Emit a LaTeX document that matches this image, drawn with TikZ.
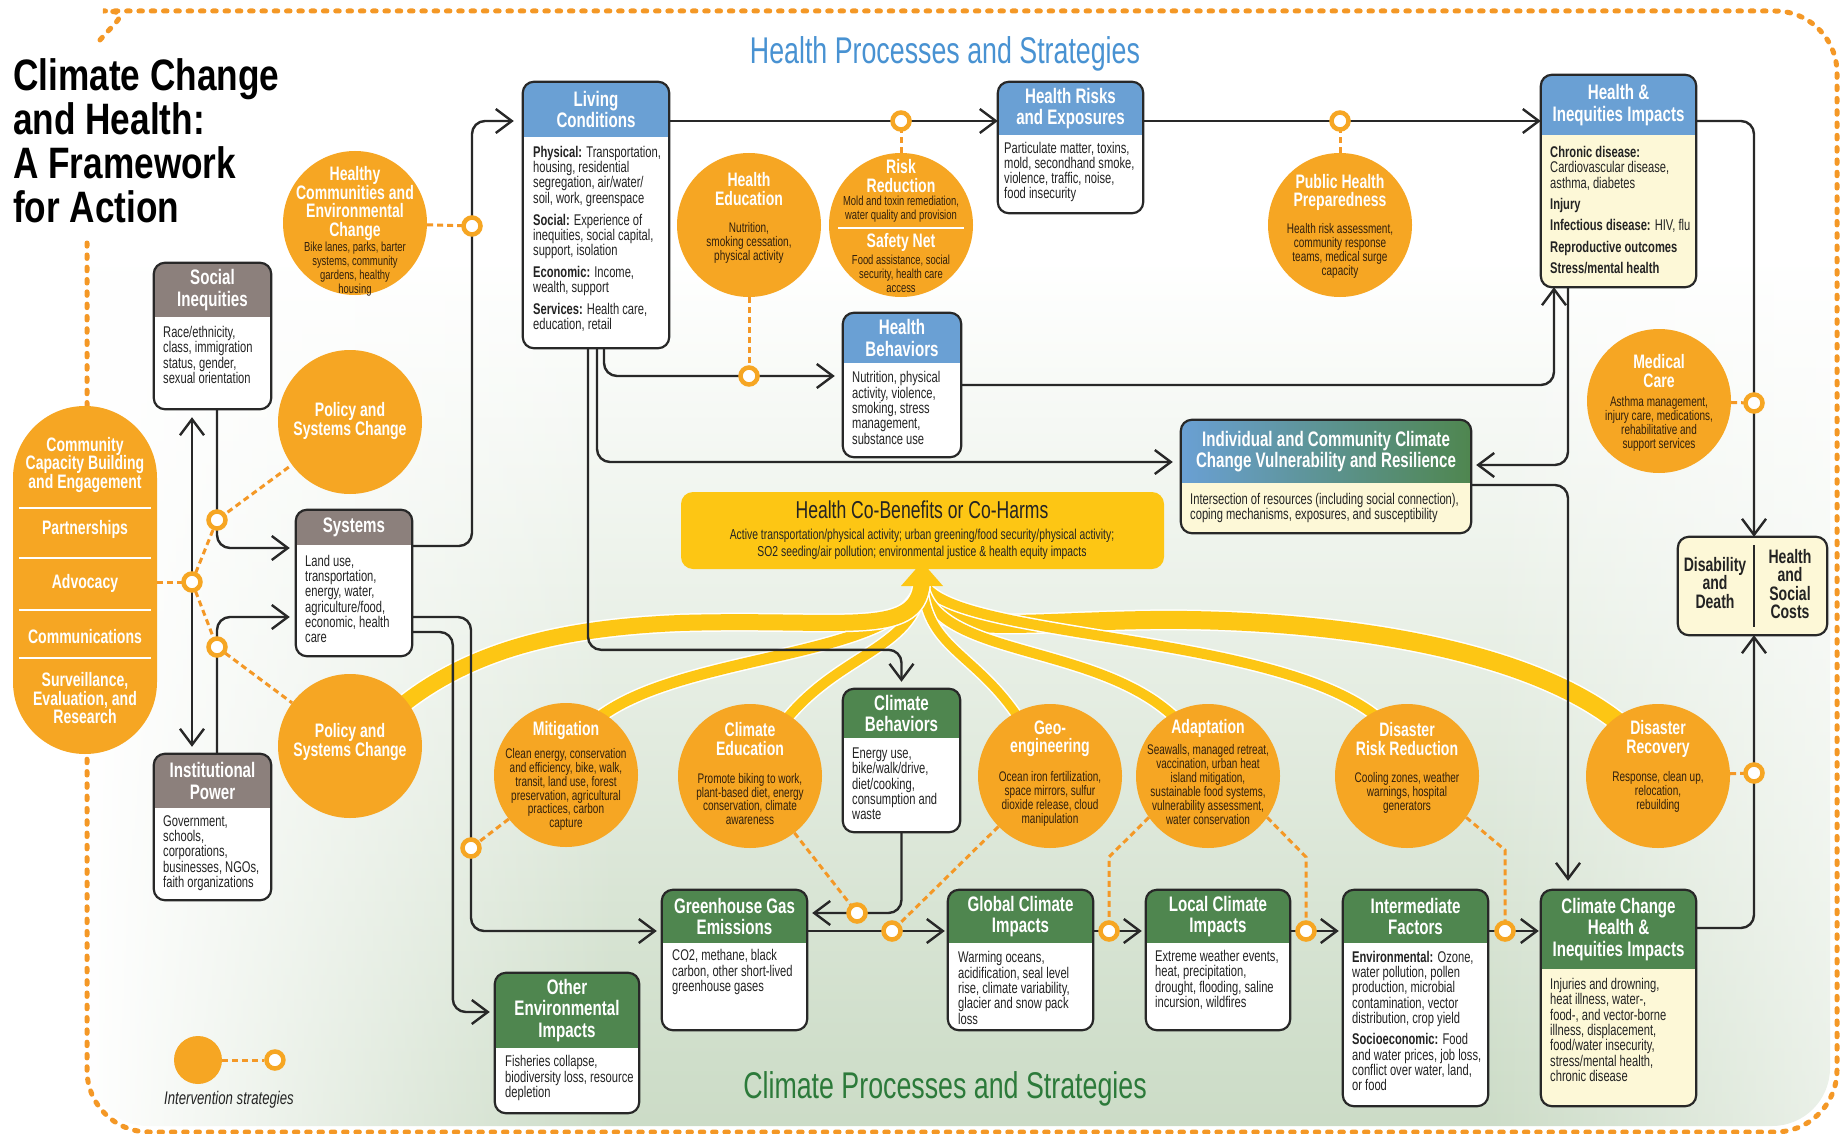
\documentclass[tikz,border=0pt]{standalone}
\usepackage{fontspec}
\setmainfont{Liberation Sans}[FakeStretch=0.72]
\newfontfamily\titlefam{Liberation Sans}[FakeStretch=0.8]
\usetikzlibrary{arrows.meta,positioning,calc,fadings}

\definecolor{orgfill}{RGB}{246,166,35}
\definecolor{orgline}{RGB}{244,152,38}
\definecolor{headblue}{RGB}{106,160,212}
\definecolor{headgreen}{RGB}{79,134,79}
\definecolor{headgray}{RGB}{140,128,124}
\definecolor{bodyyel}{RGB}{253,248,215}
\definecolor{cobyel}{RGB}{253,198,20}
\definecolor{linedark}{RGB}{40,40,40}
\definecolor{textdark}{RGB}{35,35,35}
\definecolor{cbtext}{RGB}{50,32,12}
\definecolor{headingblue}{RGB}{72,146,210}
\definecolor{headinggreen}{RGB}{44,122,58}
\definecolor{bgdeep}{RGB}{178,201,173}
\definecolor{bgmid}{RGB}{207,222,202}

\newcommand{\bodysz}{\fontsize{15.5}{15.3}\selectfont}
\newcommand{\headsz}{\fontsize{21}{21.5}\selectfont\bfseries}
\newcommand{\ctitlesz}{\fontsize{19.5}{18.5}\selectfont\bfseries}
\newcommand{\cbodysz}{\fontsize{13.9}{13.9}\selectfont}
\newcommand{\csmallsz}{\fontsize{13.1}{13.9}\selectfont}
\newcommand{\titlesz}{\titlefam\fontsize{44}{44}\selectfont\bfseries}
\newcommand{\secsz}{\fontsize{37.2}{40}\selectfont}
\newcommand{\cbtitlesz}{\fontsize{24.4}{26}\selectfont}
\newcommand{\cbbodysz}{\fontsize{14.4}{17}\selectfont}

\pgfdeclareverticalshading{bgfade}{100bp}{color(0bp)=(bgdeep); color(28bp)=(bgmid); color(64bp)=(white); color(100bp)=(white)}

\pgfdeclarelayer{back}
\pgfdeclarelayer{bands}
\pgfsetlayers{back,bands,main}

\tikzset{>/.tip={Straight Barb[length=16pt,width=24pt,line width=2.4pt]}}
\tikzset{
  conn/.style={draw=linedark, line width=2.4pt, rounded corners=13pt},
  odash/.style={draw=orgline, line width=3pt, dash pattern=on 6pt off 4pt},
  borderline/.style={draw=orgline, line width=5pt, dash pattern=on 3.5pt off 8.8pt, line cap=round, rounded corners=62pt},
  marker/.style={circle, draw=orgfill, line width=4.5pt, fill=white, minimum size=17pt, inner sep=0pt},
  ocirc/.style={circle, fill=orgfill, minimum size=144pt, inner sep=0pt},
  pbox/.style={rectangle, rounded corners=11pt, fill=white, inner sep=0pt},
  boxline/.style={draw=linedark, line width=2.2pt},
  band/.style={draw=cobyel, line width=#1, preaction={draw=white, line width=#1+3pt}},
  htext/.style={inner sep=0pt, align=center, font=\headsz, text=white},
  btext/.style={inner sep=0pt, align=left, anchor=west, font=\bodysz, text=textdark},
  ctitle/.style={inner sep=0pt, align=center, font=\ctitlesz, text=white},
  cbody/.style={inner sep=0pt, align=center, font=\cbodysz, text=cbtext},
  dtext/.style={inner sep=0pt, align=center, font=\ctitlesz, text=textdark},
}

% coloured head strip of a process box, then its frame
\newcommand{\headband}[3]{%
  \begin{scope}
    \clip[rounded corners=11pt] (#1.north west) rectangle (#1.south east);
    \fill[#3] (#1.north west) rectangle ([yshift=-#2]#1.north east);
  \end{scope}
  \draw[boxline, rounded corners=11pt] (#1.north west) rectangle (#1.south east);
}

\begin{document}
\begin{tikzpicture}[x=1pt, y=-1pt, node distance=10pt]
\useasboundingbox (0,0) rectangle (1847,1134);

% backdrop and frame
\begin{pgfonlayer}{back}
  \shade[shading=bgfade, rounded corners=58pt] (90,14) rectangle (1830,1126);
  \fill[white, path fading=east] (88,12) rectangle (620,1128);
  \fill[white, opacity=0.6, path fading=west] (1480,12) rectangle (1832,1128);
  \draw[borderline] (100,40) .. controls (117,20) and (133,11) .. (165,11) -- (1837,11) -- (1837,1132) -- (87,1132) -- (87,243);
\end{pgfonlayer}

\node[anchor=west, align=left, inner sep=0pt, font=\titlesz, text=black] (maintitle) at (13,141) {Climate Change\\and Health:\\A Framework\\for Action};
\node[font=\secsz, text=headingblue, inner sep=0pt] (sec-health) at (945,54) {Health Processes and Strategies};
\node[font=\secsz, text=headinggreen, inner sep=0pt] (sec-climate) at (945,1089) {Climate Processes and Strategies};

% marker points on the connectors
\coordinate (mHealthy) at (472,226);
\coordinate (mRisk) at (901,121);
\coordinate (mPub) at (1340,121);
\coordinate (mEdu) at (749,376);
\coordinate (mMed) at (1754,403);
\coordinate (mRec) at (1754,773);
\coordinate (mSocSys) at (217,520);
\coordinate (mAdv) at (192,582);
\coordinate (mInstSys) at (217,647);
\coordinate (mMitig) at (471,848);
\coordinate (mClimEdu) at (857,913);
\coordinate (mGeo) at (892,931);
\coordinate (mAdaptL) at (1109,931);
\coordinate (mAdaptR) at (1306,931);
\coordinate (mDrr) at (1505,931);

% process boxes
\node[pbox, minimum width=117pt, minimum height=146pt] (socineq) at (212.5,336) {};
\headband{socineq}{54pt}{headgray}
\node[pbox, minimum width=116pt, minimum height=146pt] (systems) at (354,583) {};
\headband{systems}{35pt}{headgray}
\node[pbox, minimum width=117pt, minimum height=146pt] (instpow) at (212.5,827) {};
\headband{instpow}{54pt}{headgray}
\node[pbox, minimum width=146pt, minimum height=266pt] (livcond) at (596,215) {};
\headband{livcond}{55pt}{headblue}
\node[pbox, minimum width=145pt, minimum height=131pt] (hlthrisk) at (1070.5,147.5) {};
\headband{hlthrisk}{53pt}{headblue}
\node[pbox, minimum width=118pt, minimum height=144pt] (hlthbeh) at (902,385) {};
\headband{hlthbeh}{50pt}{headblue}
\node[pbox, fill=bodyyel, minimum width=155pt, minimum height=212pt] (hlthimp) at (1618.5,181) {};
\headband{hlthimp}{60pt}{headblue}
\node[pbox, fill=bodyyel, minimum width=290pt, minimum height=113pt] (vulner) at (1326,476.5) {};
\headband{vulner}{63pt}{left color=headblue,right color=headgreen}
\node[pbox, fill=bodyyel, minimum width=149pt, minimum height=98pt] (disab) at (1752.5,586) {};
\draw[boxline, rounded corners=11pt] (disab.north west) rectangle (disab.south east);
\draw[boxline] ($(disab.north)+(1.5,8)$) -- ($(disab.south)+(1.5,-8)$);
\node[pbox, minimum width=117pt, minimum height=143pt] (climbeh) at (901.5,760.5) {};
\headband{climbeh}{49pt}{headgreen}
\node[pbox, minimum width=145pt, minimum height=140pt] (ghg) at (734.5,960) {};
\headband{ghg}{53pt}{headgreen}
\node[pbox, minimum width=144pt, minimum height=140pt] (otherenv) at (567,1043) {};
\headband{otherenv}{75pt}{headgreen}
\node[pbox, minimum width=145pt, minimum height=140pt] (globclim) at (1020.5,960) {};
\headband{globclim}{53pt}{headgreen}
\node[pbox, minimum width=144pt, minimum height=140pt] (locclim) at (1218,960) {};
\headband{locclim}{53pt}{headgreen}
\node[pbox, minimum width=145pt, minimum height=216pt] (interm) at (1415.5,998) {};
\headband{interm}{53pt}{headgreen}
\node[pbox, fill=bodyyel, minimum width=155pt, minimum height=216pt] (cchealth) at (1618.5,998) {};
\headband{cchealth}{79pt}{headgreen}
\node[fill=cobyel, rounded corners=12pt, minimum width=483pt, minimum height=77pt, inner sep=0pt] (cobenefit) at (922.5,530.5) {};

% intervention strategies
\node[fill=orgfill, rounded corners=71.9pt, minimum width=144pt, minimum height=348pt, inner sep=0pt] (pill) at (85,580) {};
\foreach \y in {508,558,610,658}
  \draw[white, line width=2pt] (19,\y) -- (151,\y);
\node[ocirc] (healthycom) at (355,223) {};
\node[ocirc] (policyup) at (350,422) {};
\node[ocirc] (policylow) at (350,746) {};
\node[ocirc] (hlthedu) at (749,225) {};
\node[ocirc] (riskred) at (901,225) {};
\node[ocirc] (pubhlth) at (1340,225) {};
\node[ocirc] (medcare) at (1659,401) {};
\node[ocirc] (mitig) at (566,775) {};
\node[ocirc] (climedu) at (750,776) {};
\node[ocirc] (geoeng) at (1050,776) {};
\node[ocirc] (adapt) at (1208,776) {};
\node[ocirc] (drr) at (1407,776) {};
\node[ocirc] (disrec) at (1658,776) {};

% co-benefit streams
\begin{pgfonlayer}{bands}
  \draw[band=18pt] ($(disrec)!0.85!(disrec.125)$) .. controls (1520,640) and (1300,618) .. (1150,620) .. controls (1000,622) and (924,640) .. (922,578);
  \draw[band=10pt] ($(drr)!0.85!(drr.115)$) .. controls (1280,630) and (930,640) .. (922,578);
  \draw[band=10pt] ($(adapt)!0.85!(adapt.118)$) .. controls (1100,640) and (926,660) .. (922,578);
  \draw[band=9pt] ($(geoeng)!0.85!(geoeng.118)$) .. controls (975,650) and (924,650) .. (922,578);
  \draw[band=10pt] ($(climedu)!0.85!(climedu.58)$) .. controls (840,650) and (920,650) .. (922,578);
  \draw[band=11pt] ($(mitig)!0.85!(mitig.62)$) .. controls (680,650) and (915,660) .. (922,578);
  \draw[band=16pt] ($(policylow)!0.85!(policylow.38)$) .. controls (470,650) and (560,628) .. (680,623) .. controls (850,618) and (921,640) .. (922,578);
  \fill[cobyel] (922,562) -- (943,586) -- (901,586) -- cycle;
\end{pgfonlayer}

% connectors
\draw[conn,->,shorten >=9pt] ([yshift=37pt]systems.east) -| (mHealthy) |- ([yshift=94pt]livcond.west);
\draw[conn,->] (livcond.east |- mRisk) -- (hlthrisk.west |- mRisk);
\draw[conn,->] (hlthrisk.east |- mPub) -- (hlthimp.west |- mPub);
\draw[conn,->] (hlthimp.east |- mPub) -| (disab.north -| mMed);
\draw[conn,->] ([yshift=70pt]cchealth.east) -| (disab.south -| mRec);
\draw[conn,->,shorten >=8pt] ([xshift=8pt]livcond.south) |- (hlthbeh.west |- mEdu);
\draw[conn,->] (hlthbeh.east) -| ([xshift=-64.5pt]hlthimp.south);
\draw[conn,->,shorten >=5pt] ([xshift=-50.5pt]hlthimp.south) |- ([yshift=11.5pt]vulner.east);
\draw[conn,->,shorten >=9pt] ([yshift=-8.5pt]vulner.east) -| ([xshift=-50.5pt]cchealth.north);
\draw[conn,->,shorten >=8pt] ([xshift=1pt]livcond.south) |- ([yshift=14.5pt]vulner.west);
\draw[conn,->,shorten >=7pt] ([xshift=-8pt]livcond.south) |- ($(climbeh.north)+(0,-39)$) -- (climbeh.north);
\draw[conn,->,shorten >=5pt] (climbeh.south) |- ([yshift=47pt]ghg.east);
\draw[conn,->,shorten >=5pt] ([yshift=-34pt]systems.east) -| (mMitig) |- ([yshift=29pt]ghg.west);
\draw[conn,->,shorten >=5pt] ([yshift=-49pt]systems.east) -| ($(otherenv.west)+(-42,-31)$) -- ([yshift=31pt]otherenv.west);
\draw[conn,->,shorten >=3pt] (ghg.east |- mGeo) -- (globclim.west |- mGeo);
\draw[conn,->,shorten >=4pt] (globclim.east |- mAdaptL) -- (locclim.west |- mAdaptL);
\draw[conn,->,shorten >=4pt] (locclim.east |- mAdaptR) -- (interm.west |- mAdaptR);
\draw[conn,->,shorten >=2pt] (interm.east |- mDrr) -- (cchealth.west |- mDrr);
\draw[conn,<->,shorten <=8pt,shorten >=7pt] (socineq.south -| mAdv) -- (instpow.north -| mAdv);
\draw[conn,->,shorten >=6pt] (socineq.south -| mSocSys) |- ([yshift=35pt]systems.west);
\draw[conn,->,shorten >=6pt] (instpow.north -| mInstSys) |- ([yshift=-34pt]systems.west);

% dashed links from strategies
\draw[odash] (healthycom) -- (mHealthy);
\draw[odash] (riskred) -- (mRisk);
\draw[odash] (pubhlth) -- (mPub);
\draw[odash] (hlthedu) -- (mEdu);
\draw[odash] (medcare) -- (mMed);
\draw[odash] (disrec) -- (mRec);
\draw[odash] (pill.east |- mAdv) -- (mAdv);
\draw[odash] (mAdv) -- (mSocSys) -- (policyup);
\draw[odash] (mAdv) -- (mInstSys) -- (policylow);
\draw[odash] (mitig) -- (mMitig);
\draw[odash] (climedu) -- (mClimEdu);
\draw[odash] (geoeng) -- (mGeo);
\draw[odash] (adapt.215) -- ($(mAdaptL)+(0,-74)$) -- (mAdaptL);
\draw[odash] (adapt.-35) -- ($(mAdaptR)+(0,-74)$) -- (mAdaptR);
\draw[odash] (drr.-35) -- ($(mDrr)+(0,-81)$) -- (mDrr);

\foreach \m in {mHealthy,mRisk,mPub,mEdu,mMed,mRec,mSocSys,mAdv,mInstSys,mMitig,mClimEdu,mGeo,mAdaptL,mAdaptR,mDrr}
  \node[marker] (ring-\m) at (\m) {};

% box texts
\node[htext] (socineq-h) at (212.5,290) {Social\\Inequities};
\node[btext] (socineq-b) at (163,355) {Race/ethnicity,\\class, immigration\\status, gender,\\sexual orientation};
\node[htext] (systems-h) at (354,527.5) {Systems};
\node[btext] (systems-b) at (305,599) {Land use,\\transportation,\\energy, water,\\agriculture/food,\\economic, health\\care};
\node[htext] (instpow-h) at (212.5,781) {Institutional\\Power};
\node[btext] (instpow-b) at (163,853) {Government,\\schools,\\corporations,\\businesses, NGOs,\\faith organizations};
\node[htext] (livcond-h) at (596,109.5) {Living\\Conditions};
\node[btext] (livcond-b) at (533,239) {\textbf{Physical:} Transportation,\\housing, residential\\segregation, air/water/\\soil, work, greenspace\\[6.5pt]\textbf{Social:} Experience of\\inequities, social capital,\\support, isolation\\[6.5pt]\textbf{Economic:} Income,\\wealth, support\\[6.5pt]\textbf{Services:} Health care,\\education, retail};
\node[htext] (hlthrisk-h) at (1070.5,108.5) {Health Risks\\and Exposures};
\node[btext] (hlthrisk-b) at (1004,172) {Particulate matter, toxins,\\mold, secondhand smoke,\\violence, traffic, noise,\\food insecurity};
\node[htext] (hlthbeh-h) at (902,338) {Health\\Behaviors};
\node[btext] (hlthbeh-b) at (852,408) {Nutrition, physical\\activity, violence,\\smoking, stress\\management,\\substance use};
\node[htext] (hlthimp-h) at (1618.5,105) {Health \&\\Inequities Impacts};
\node[btext] (hlthimp-b) at (1550,210) {\textbf{Chronic disease:}\\Cardiovascular disease,\\asthma, diabetes\\[6pt]\textbf{Injury}\\[6pt]\textbf{Infectious disease:} HIV, flu\\[6pt]\textbf{Reproductive outcomes}\\[6pt]\textbf{Stress/mental health}};
\node[htext] (vulner-h) at (1326,451.5) {Individual and Community Climate\\Change Vulnerability and Resilience};
\node[btext] (vulner-b) at (1190,508) {Intersection of resources (including social connection),\\coping mechanisms, exposures, and susceptibility};
\node[dtext] (disab-l) at (1715,583) {Disability\\and\\Death};
\node[dtext] (disab-r) at (1790,584) {Health\\and\\Social\\Costs};
\node[htext] (climbeh-h) at (901.5,713.5) {Climate\\Behaviors};
\node[btext] (climbeh-b) at (852,784) {Energy use,\\bike/walk/drive,\\diet/cooking,\\consumption and\\waste};
\node[htext] (ghg-h) at (734.5,916.5) {Greenhouse Gas\\Emissions};
\node[btext] (ghg-b) at (672,972) {CO2, methane, black\\carbon, other short-lived\\greenhouse gases};
\node[htext] (otherenv-h) at (567,1010.5) {Other\\Environmental\\Impacts};
\node[btext] (otherenv-b) at (505,1078) {Fisheries collapse,\\biodiversity loss, resource\\depletion};
\node[htext] (globclim-h) at (1020.5,916.5) {Global Climate\\Impacts};
\node[btext] (globclim-b) at (958,988) {Warming oceans,\\acidification, seal level\\rise, climate variability,\\glacier and snow pack\\loss};
\node[htext] (locclim-h) at (1218,916.5) {Local Climate\\Impacts};
\node[btext] (locclim-b) at (1155,980) {Extreme weather events,\\heat, precipitation,\\drought, flooding, saline\\incursion, wildfires};
\node[htext] (interm-h) at (1415.5,916.5) {Intermediate\\Factors};
\node[btext] (interm-b) at (1352,1021) {\textbf{Environmental:} Ozone,\\water pollution, pollen\\production, microbial\\contamination, vector\\distribution, crop yield\\[6pt]\textbf{Socioeconomic:} Food\\and water prices, job loss,\\conflict over water, land,\\or food};
\node[htext] (cchealth-h) at (1618.5,929.5) {Climate Change\\Health \&\\Inequities Impacts};
\node[btext] (cchealth-b) at (1550,1030) {Injuries and drowning,\\heat illness, water-,\\food-, and vector-borne\\illness, displacement,\\food/water insecurity,\\stress/mental health,\\chronic disease};
\node[inner sep=0pt, font=\cbtitlesz, text=textdark] (cobenefit-t) at (922,510) {Health Co-Benefits or Co-Harms};
\node[inner sep=0pt, align=center, font=\cbbodysz, text=textdark] (cobenefit-b) at (922,544.5) {Active transportation/physical activity; urban greening/food security/physical activity;\\SO2 seeding/air pollution; environmental justice \& health equity impacts};

% strategy texts
\node[ctitle] (pill-1) at (85,464.5) {Community\\Capacity Building\\and Engagement};
\node[ctitle] (pill-2) at (85,529) {Partnerships};
\node[ctitle] (pill-3) at (85,583) {Advocacy};
\node[ctitle] (pill-4) at (85,637) {Communications};
\node[ctitle] (pill-5) at (85,698.5) {Surveillance,\\Evaluation, and\\Research};
\node[ctitle] (healthycom-t) at (355,203.5) {Healthy\\Communities and\\Environmental\\Change};
\node[cbody, font=\csmallsz] (healthycom-d) at (355,269) {Bike lanes, parks, barter\\systems, community\\gardens, healthy\\housing};
\node[ctitle] (policyup-t) at (350,421) {Policy and\\Systems Change};
\node[ctitle] (policylow-t) at (350,742) {Policy and\\Systems Change};
\node[ctitle] (hlthedu-t) at (749,189) {Health\\Education};
\node[cbody] (hlthedu-d) at (749,243) {Nutrition,\\smoking cessation,\\physical activity};
\node[ctitle] (riskred-t) at (901,176) {Risk\\Reduction};
\node[cbody, font=\csmallsz] (riskred-d) at (901,209.5) {Mold and toxin remediation,\\water quality and provision};
\draw[white, line width=1.5pt] (838,228) -- (964,228);
\node[ctitle] (safety-t) at (901,242) {Safety Net};
\node[cbody, font=\csmallsz] (safety-d) at (901,274) {Food assistance, social\\security, health care\\access};
\node[ctitle] (pubhlth-t) at (1340,192.5) {Public Health\\Preparedness};
\node[cbody] (pubhlth-d) at (1340,251) {Health risk assessment,\\community response\\teams, medical surge\\capacity};
\node[ctitle] (medcare-t) at (1659,371) {Medical\\Care};
\node[cbody] (medcare-d) at (1659,424) {Asthma management,\\injury care, medications,\\rehabilitative and\\support services};
\node[ctitle] (mitig-t) at (566,730) {Mitigation};
\node[cbody] (mitig-d) at (566,789.5) {Clean energy, conservation\\and efficiency, bike, walk,\\transit, land use, forest\\preservation, agricultural\\practices, carbon\\capture};
\node[ctitle] (climedu-t) at (750,739) {Climate\\Education};
\node[cbody] (climedu-d) at (750,799) {Promote biking to work,\\plant-based diet, energy\\conservation, climate\\awareness};
\node[ctitle] (geoeng-t) at (1050,739) {Geo-\\engineering};
\node[cbody] (geoeng-d) at (1050,799) {Ocean iron fertilization,\\space mirrors, sulfur\\dioxide release, cloud\\manipulation};
\node[ctitle] (adapt-t) at (1208,728) {Adaptation};
\node[cbody] (adapt-d) at (1208,784.5) {Seawalls, managed retreat,\\vaccination, urban heat\\island mitigation,\\sustainable food systems,\\vulnerability assessment,\\water conservation};
\node[ctitle] (drr-t) at (1407,739) {Disaster\\Risk Reduction};
\node[cbody] (drr-d) at (1407,793) {Cooling zones, weather\\warnings, hospital\\generators};
\node[ctitle] (disrec-t) at (1658,739) {Disaster\\Recovery};
\node[cbody] (disrec-d) at (1658,792) {Response, clean up,\\relocation,\\rebuilding};

% legend
\node[ocirc, minimum size=48pt] (legdot) at (198,1060) {};
\node[marker, right=42pt of legdot] (legmark) {};
\draw[odash] (legdot) -- (legmark);
\node[inner sep=0pt, font={\fontsize{18.3}{20}\selectfont\itshape}, text=textdark] (legtext) at (229,1100) {Intervention strategies};
\end{tikzpicture}
\end{document}
